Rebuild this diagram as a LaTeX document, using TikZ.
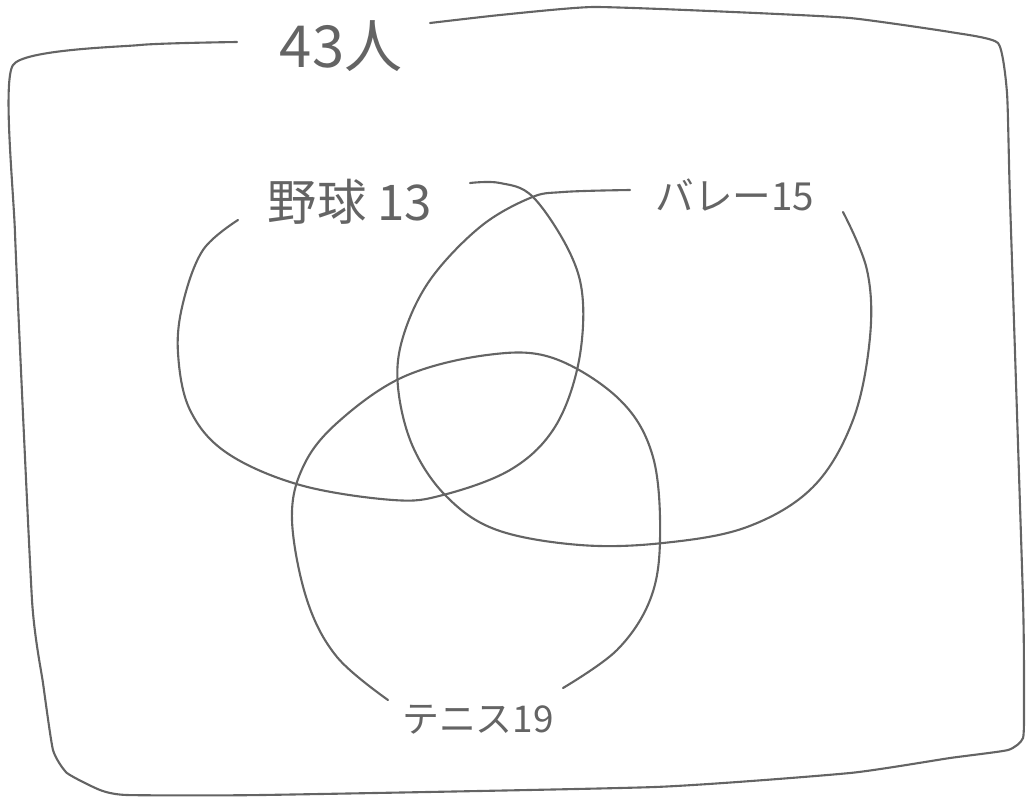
\documentclass[tikz,border=0pt]{standalone}
\usepackage{fontspec}
\usepackage{xcolor}
\newfontfamily\jpfont{Noto Sans CJK JP}
\definecolor{pencil}{RGB}{100,100,100}

\begin{document}
\begin{tikzpicture}[x=0.02cm, y=-0.02cm,
    line/.style={pencil, line width=1.2pt, line cap=round, line join=round},
    lbl/.style={text=pencil, font=\jpfont\fontsize{#1}{#1}\selectfont, inner sep=0pt}]
        \useasboundingbox (0,0) rectangle (1027,798);
        % frame
        \draw[line] plot[smooth, tension=0.3] coordinates {(237,42) (140,45) (13,65) (15,233) (32,600) (43,683) (53,750) (67,773) (100,790) (127,795) (262,795) (655,787) (850,773) (950,758) (1008,750) (1023,738) (1024,700) (1023,600) (1010,200) (1007,93) (998,43) (950,32) (850,18) (733,12) (593,7) (500,15) (430,23)};
        \node[lbl=33] (total) at (341,46) {43人};
        % sets
        \node[lbl=28] (yakyu) at (350,202) {野球 13};
        \node[lbl=22] (bare) at (735,195) {バレー15};
        \node[lbl=21] (tenisu) at (478,720) {テニス19};
        \draw[line] plot[smooth, tension=0.6] coordinates {(238,220) (203,250) (183,303) (178,353) (190,410) (227,453) (300,485) (393,500) (443,495) (510,470) (553,430) (577,370) (583,303) (570,253) (533,197) (500,183) (470,183)};
        \draw[line] plot[smooth, tension=0.6] coordinates {(630,190) (563,192) (530,198) (480,227) (430,280) (403,337) (398,387) (413,447) (447,497) (497,530) (580,545) (663,543) (747,527) (813,487) (853,420) (870,337) (867,270) (843,212)};
        \draw[line] plot[smooth, tension=0.6] coordinates {(388,700) (337,657) (307,600) (292,520) (303,467) (337,423) (403,377) (487,355) (553,358) (620,400) (653,457) (660,540) (650,600) (617,650) (563,688)};
    \end{tikzpicture}
\end{document}
